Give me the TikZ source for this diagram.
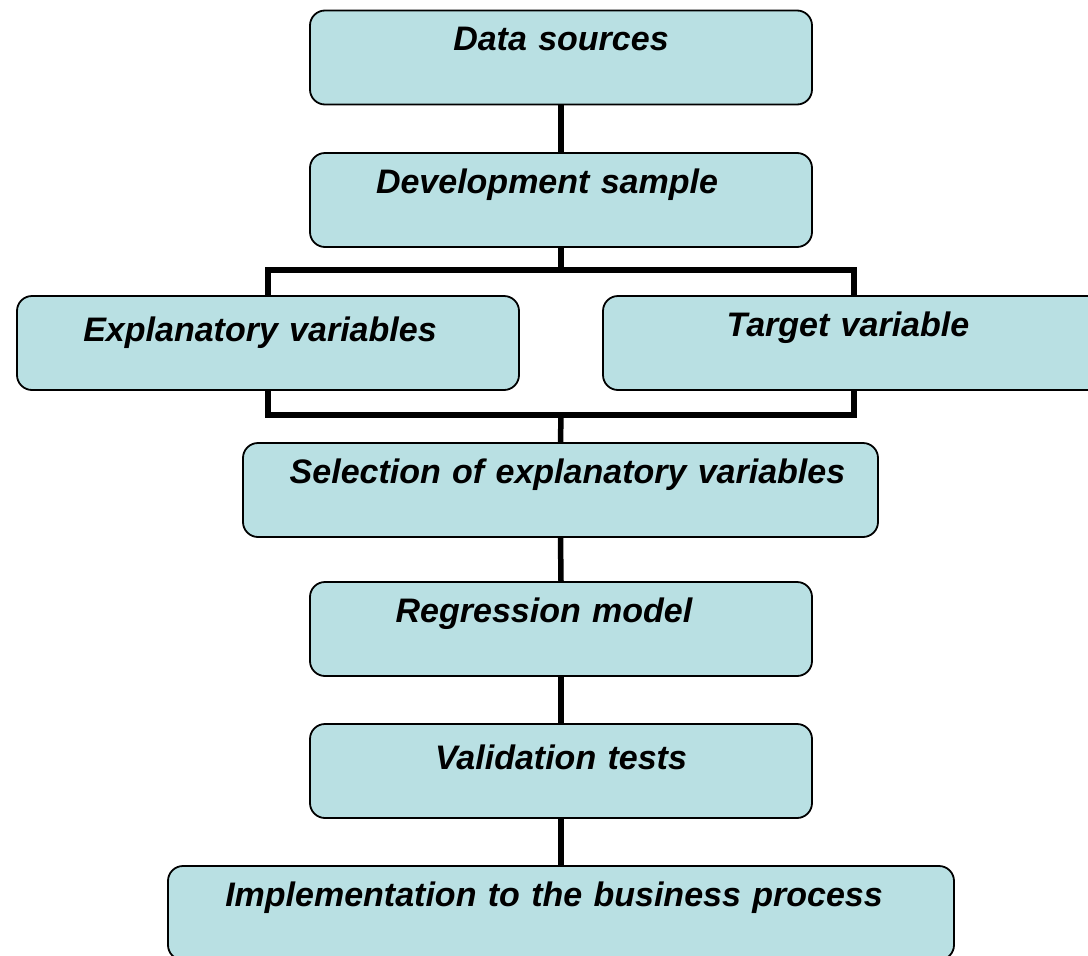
\documentclass[tikz,border=0pt]{standalone}
\usepackage{fontspec}
\setmainfont{Liberation Sans}
\definecolor{boxfill}{RGB}{185,224,227}
\newcommand{\offtxt}[2]{\hspace*{#1}#2\hspace*{-#1}\null}
\tikzset{
  flowbox/.style={draw=black, line width=1.8pt, fill=boxfill, rounded corners=15pt,
    rectangle, inner sep=0pt, minimum height=94pt, text width=#1, align=center,
    text height=40pt, text depth=54pt,
    font=\fontsize{34}{40}\selectfont\bfseries\itshape},
  flowbox/.default=502pt,
  lowtext/.style={text height=45pt, text depth=49pt},
  conn/.style={draw=black, line width=5.5pt, line join=miter}
}
\begin{document}
\begin{tikzpicture}[x=1pt,y=-1pt]
\clip (0,0) rectangle (1088,956);
\fill[white] (0,0) rectangle (1088,956);
\coordinate (jt) at (561,270);
\coordinate (jb) at (561,415);
\node[flowbox] (ds) at (561,57.5) {Data sources};
\node[flowbox] (dev) at (561,200) {\offtxt{-14pt}{Development sample}};
\node[flowbox, lowtext] (exp) at (268,343) {\offtxt{-8pt}{Explanatory variables}};
\node[flowbox] (tgt) at (854,343) {\offtxt{-6pt}{Target variable}};
\node[flowbox=635pt] (sel) at (560.5,490) {\offtxt{7pt}{Selection of explanatory variables}};
\node[flowbox] (reg) at (561,629) {\offtxt{-17pt}{Regression model}};
\node[flowbox, lowtext] (val) at (561,771) {Validation tests};
\node[flowbox=786pt] (imp) at (561,913) {\offtxt{-7pt}{Implementation to the business process}};
\draw[conn] (ds.south) -- (dev.north);
\draw[conn] (dev.south) -- (jt);
\draw[conn] (exp.north) |- (jt) -| (tgt.north);
\draw[conn] (exp.south) |- (jb) -| (tgt.south);
\draw[conn] (jb) -- (sel.north);
\draw[conn] (sel.south) -- (reg.north);
\draw[conn] (reg.south) -- (val.north);
\draw[conn] (val.south) -- (imp.north);
\end{tikzpicture}
\end{document}
